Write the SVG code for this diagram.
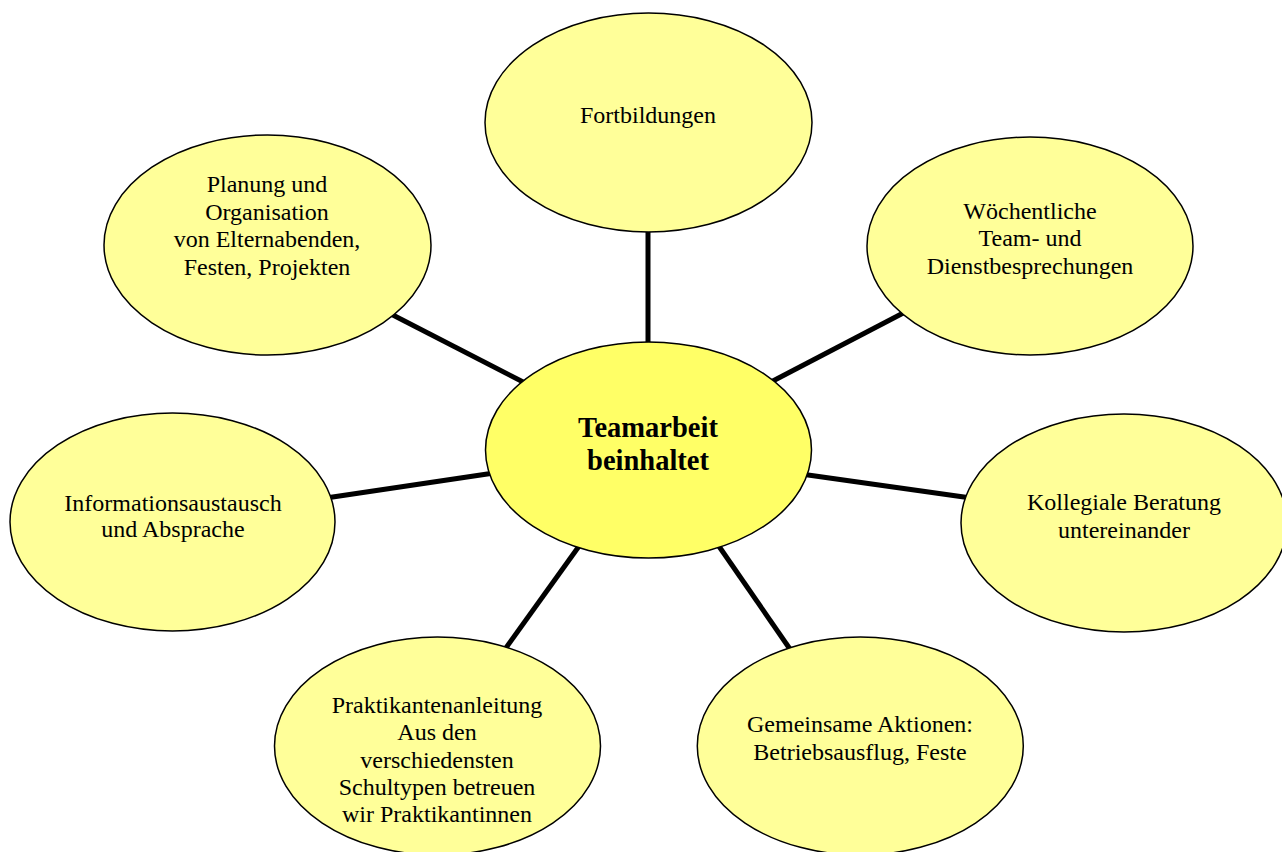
<svg xmlns="http://www.w3.org/2000/svg" width="1282" height="852" viewBox="0 0 1282 852">
<style>
.node{fill:#FFFF99;stroke:#000;stroke-width:1.5}
.center{fill:#FFFF66;stroke:#000;stroke-width:1.5}
.t{font-family:"Liberation Serif","Times New Roman",serif;font-size:24px;fill:#000;text-anchor:middle}
.tb{font-family:"Liberation Serif","Times New Roman",serif;font-size:28.5px;font-weight:bold;fill:#000;text-anchor:middle}
.c{stroke:#000;stroke-width:5;fill:none}
</style>
<rect width="1282" height="852" fill="#fff"/>
<g id="connectors">
<line class="c" x1="648" y1="225" x2="648" y2="348"/>
<line class="c" x1="387" y1="312" x2="529" y2="385"/>
<line class="c" x1="769" y1="383" x2="909" y2="310"/>
<line class="c" x1="326" y1="498" x2="494" y2="473"/>
<line class="c" x1="801" y1="474" x2="971" y2="498"/>
<line class="c" x1="582" y1="542" x2="503" y2="652"/>
<line class="c" x1="716" y1="542" x2="792" y2="652"/>
</g>
<g id="center">
<ellipse class="center" cx="648.5" cy="450" rx="163" ry="108"/>
<text class="tb" x="648" y="437">Teamarbeit</text>
<text class="tb" x="648" y="470">beinhaltet</text>
</g>
<g id="fortbildungen">
<ellipse class="node" cx="648.5" cy="122.5" rx="163.5" ry="109.5"/>
<text class="t" x="648" y="123">Fortbildungen</text>
</g>
<g id="planung">
<ellipse class="node" cx="267.5" cy="245" rx="163.5" ry="110"/>
<text class="t" x="267" y="192">Planung und</text>
<text class="t" x="267" y="219.5">Organisation</text>
<text class="t" x="267" y="247">von Elternabenden,</text>
<text class="t" x="267" y="275">Festen, Projekten</text>
</g>
<g id="woechentliche">
<ellipse class="node" cx="1030" cy="246" rx="163" ry="109"/>
<text class="t" x="1030" y="218.5">Wöchentliche</text>
<text class="t" x="1030" y="245.5">Team- und</text>
<text class="t" x="1030" y="273.5">Dienstbesprechungen</text>
</g>
<g id="information">
<ellipse class="node" cx="172.5" cy="522" rx="162.5" ry="109"/>
<text class="t" x="173" y="511">Informationsaustausch</text>
<text class="t" x="173" y="537">und Absprache</text>
</g>
<g id="kollegiale">
<ellipse class="node" cx="1124" cy="523" rx="163" ry="109"/>
<text class="t" x="1124" y="510">Kollegiale Beratung</text>
<text class="t" x="1124" y="538">untereinander</text>
</g>
<g id="praktikanten">
<ellipse class="node" cx="437.5" cy="746" rx="163" ry="109"/>
<text class="t" x="437" y="712.5">Praktikantenanleitung</text>
<text class="t" x="437" y="740">Aus den</text>
<text class="t" x="437" y="767.5">verschiedensten</text>
<text class="t" x="437" y="795">Schultypen betreuen</text>
<text class="t" x="437" y="822">wir Praktikantinnen</text>
</g>
<g id="gemeinsame">
<ellipse class="node" cx="860.3" cy="746" rx="163" ry="109"/>
<text class="t" x="860" y="732">Gemeinsame Aktionen:</text>
<text class="t" x="860" y="760">Betriebsausflug, Feste</text>
</g>
</svg>
